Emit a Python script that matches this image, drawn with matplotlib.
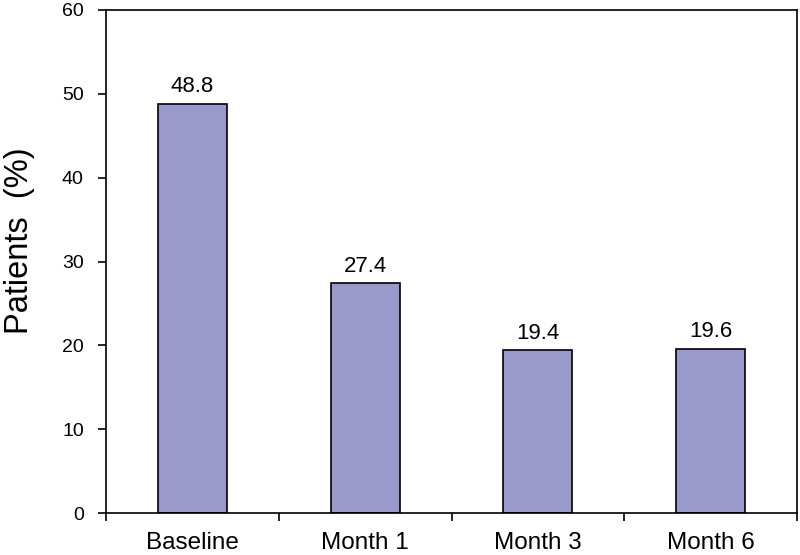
import matplotlib
matplotlib.use("Agg")
import matplotlib.pyplot as plt

categories = ["Baseline", "Month 1", "Month 3", "Month 6"]
values = [48.8, 27.4, 19.4, 19.6]
yticks = [0, 10, 20, 30, 40, 50, 60]

plt.rcParams['font.family'] = ['Liberation Sans', 'DejaVu Sans']

fig = plt.figure(figsize=(8, 5.55), dpi=100)
ax = fig.add_axes([106/800, 1 - 513/555, (797-106)/800, (513-10)/555])

x = list(range(len(categories)))
bars = ax.bar(x, values, width=0.40, color="#9999CC", edgecolor="black", linewidth=1.2, zorder=2)
for xi, v in zip(x, values):
    ax.text(xi, v + 0.8, f"{v:.1f}", ha="center", va="bottom", fontsize=16)

ax.set_xlim(-0.5, len(categories) - 0.5)
ax.set_ylim(0, 60)
ax.set_yticks(yticks)
ax.set_yticklabels([str(t) for t in yticks], fontsize=14)
ax.set_xticks(x)
ax.set_xticklabels(categories, fontsize=17.5)
ax.tick_params(axis='x', length=0, pad=14)
ax.set_xticks([i - 0.5 for i in range(len(categories) + 1)], minor=True)
ax.tick_params(axis='x', which='minor', length=6, width=1.2, direction='out')
ax.tick_params(axis='y', length=6, width=1.2, direction='out', pad=10)
for s in ax.spines.values():
    s.set_linewidth(1.2)
ax.set_ylabel("Patients  (%)", fontsize=23.5, labelpad=19.5, y=0.541)

fig.savefig("out.png", dpi=100)
